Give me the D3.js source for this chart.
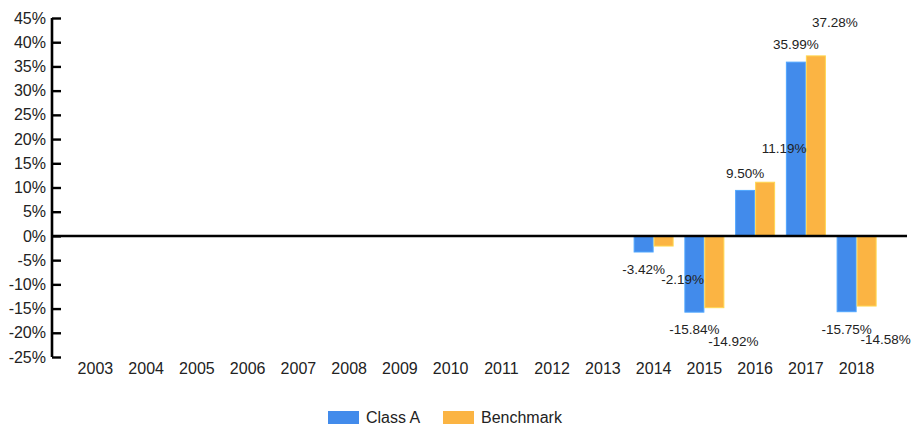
<!DOCTYPE html>
<html>
<head>
<meta charset="utf-8">
<script src="https://cdn.jsdelivr.net/npm/d3@7"></script>
<style>
  html, body { margin: 0; padding: 0; background: #fff; }
  svg { display: block; font-family: "Liberation Sans", Arial, sans-serif; }
</style>
</head>
<body>
<svg id="chart" width="912" height="425"></svg>
<script>
// Annual returns, 2003–2018 (only the last five years have values)
const years = ["2003","2004","2005","2006","2007","2008","2009","2010",
               "2011","2012","2013","2014","2015","2016","2017","2018"];
const classA    = [null,null,null,null,null,null,null,null,null,null,null,-3.42,-15.84,9.50,35.99,-15.75];
const benchmark = [null,null,null,null,null,null,null,null,null,null,null,-2.19,-14.92,11.19,37.28,-14.58];
const seriesNames = ["Class A", "Benchmark"];
const seriesColors = ["#428BEB", "#FBB443"];
const yTicks = [-25,-20,-15,-10,-5,0,5,10,15,20,25,30,35,40,45];

const svg = d3.select("#chart");
const axisX = 52, plotRight = 907, plotTop = 18, plotBottom = 357;

const y = d3.scaleLinear().domain([-25, 45]).range([plotBottom, plotTop]);
const x0 = d3.scaleBand().domain(years).range([70, 882]).padding(0);
const x1 = d3.scaleBand().domain(seriesNames)
  .range([x0.bandwidth() / 2 - 20, x0.bandwidth() / 2 + 20]).padding(0);

const seriesData = [classA, benchmark];

// bars
seriesData.forEach((vals, si) => {
  const g = svg.append("g");
  const pts = years.map((yr, i) => ({ yr, v: vals[i] })).filter(d => d.v !== null);
  g.selectAll("rect").data(pts).join("rect")
    .attr("x", d => x0(d.yr) + x1(seriesNames[si]) + 0.5)
    .attr("width", x1.bandwidth() - 1)
    .attr("y", d => y(Math.max(0, d.v)) + 0.5)
    .attr("height", d => Math.max(0, Math.abs(y(d.v) - y(0)) - 1))
    .attr("fill", seriesColors[si])
    .attr("stroke", d3.color(seriesColors[si]).brighter(0.5))
    .attr("stroke-width", 1);

  // value labels
  const dx = si === 0 ? 0 : 19;
  const dy = si === 0 ? 17 : 33;
  g.selectAll("text").data(pts).join("text")
    .attr("x", d => x0(d.yr) + x1(seriesNames[si]) + x1.bandwidth() / 2 + dx)
    .attr("y", d => d.v >= 0 ? y(d.v) - dy : y(d.v) + dy)
    .attr("dy", "0.35em")
    .attr("text-anchor", "middle")
    .attr("font-size", 13.5)
    .attr("fill", "#222")
    .text(d => d.v.toFixed(2) + "%");
});

// y axis
const yAxis = svg.append("g")
  .attr("transform", `translate(${axisX},0)`)
  .call(d3.axisLeft(y).tickValues(yTicks).tickSize(-9).tickPadding(6)
        .tickFormat(d => d + "%"));
yAxis.select(".domain").attr("stroke", "#000").attr("stroke-width", 2.6)
  .attr("d", `M0,${plotTop}V${plotBottom}`);
yAxis.selectAll(".tick line").attr("stroke", "#000").attr("stroke-width", 2.4);
yAxis.selectAll(".tick text").attr("font-size", 16).attr("fill", "#222")
  .attr("font-family", "Liberation Sans, Arial, sans-serif");

// zero line
svg.append("line")
  .attr("x1", axisX).attr("x2", plotRight)
  .attr("y1", y(0)).attr("y2", y(0))
  .attr("stroke", "#000").attr("stroke-width", 2.6);

// year labels
svg.append("g").selectAll("text").data(years).join("text")
  .attr("x", d => x0(d) + x0.bandwidth() / 2)
  .attr("y", 368)
  .attr("dy", "0.35em")
  .attr("text-anchor", "middle")
  .attr("font-size", 16)
  .attr("fill", "#222")
  .text(d => d);

// legend
const legendX = [328, 443];
const legend = svg.append("g");
seriesNames.forEach((name, i) => {
  legend.append("rect")
    .attr("x", legendX[i]).attr("y", 411)
    .attr("width", 31).attr("height", 13)
    .attr("fill", seriesColors[i]);
  legend.append("text")
    .attr("x", legendX[i] + 38).attr("y", 417)
    .attr("dy", "0.35em")
    .attr("font-size", 16)
    .attr("fill", "#222")
    .text(name);
});
</script>
</body>
</html>
